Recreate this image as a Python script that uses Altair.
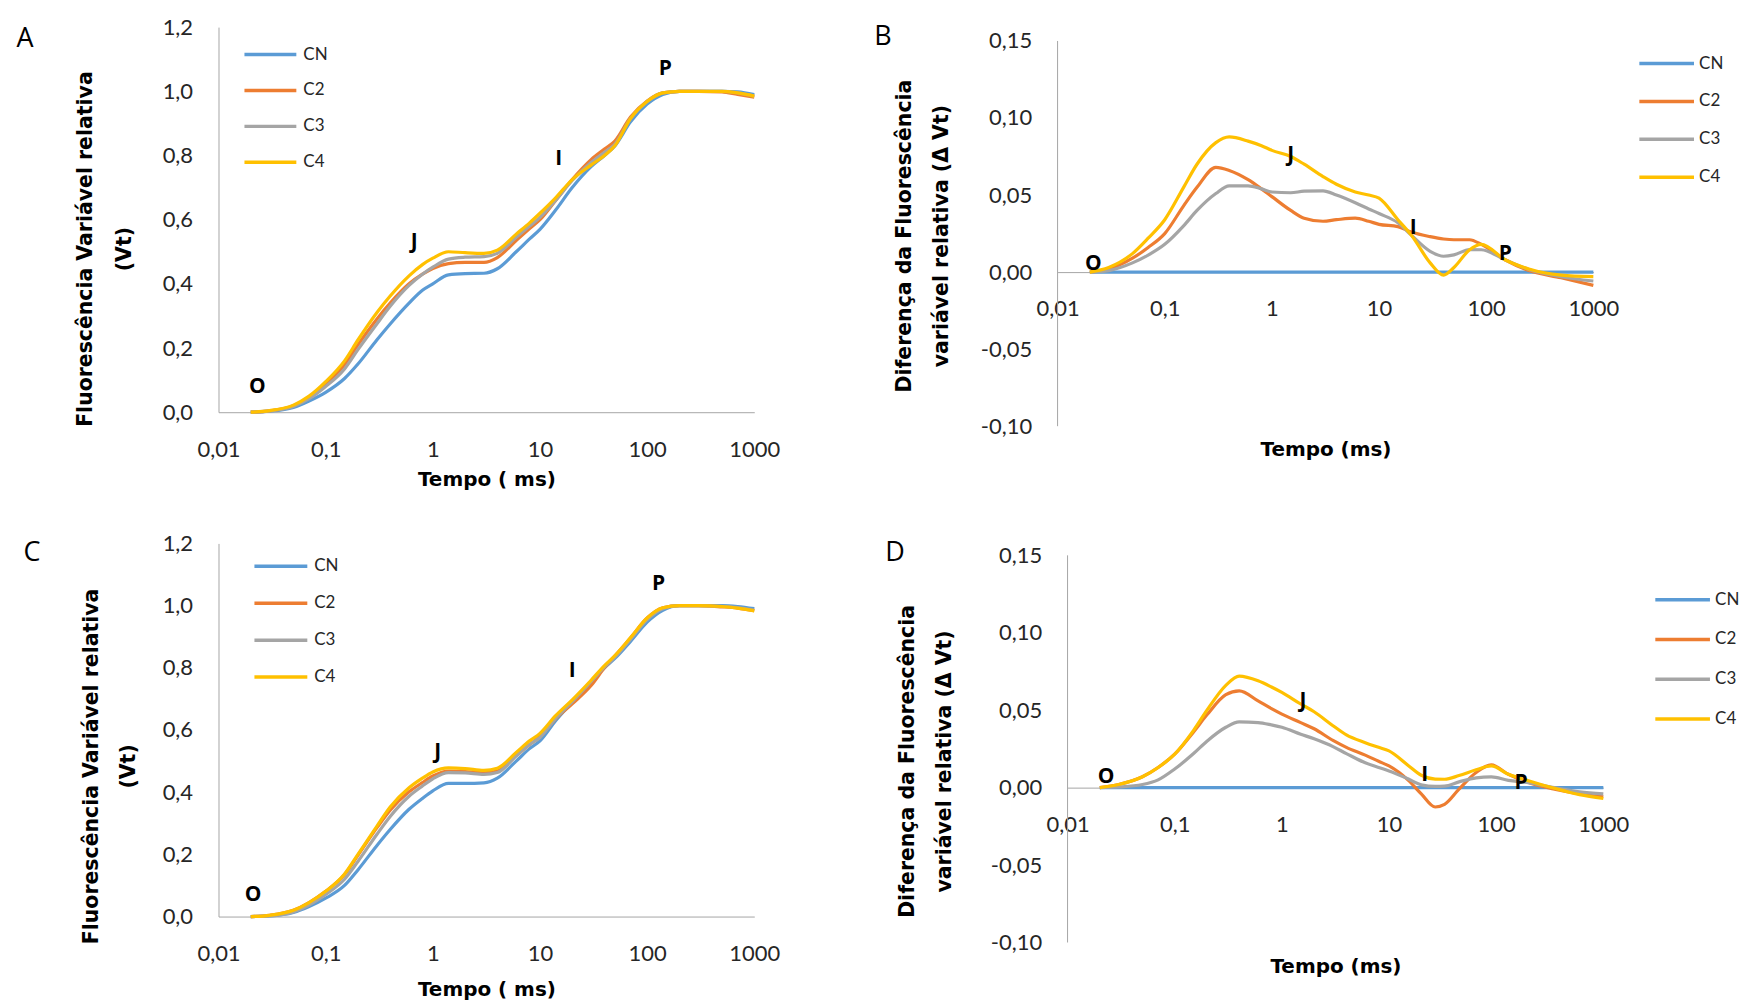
import altair as alt
import pandas as pd

SERIES = ["CN", "C2", "C3", "C4"]
COLORS = ["#5B9BD5", "#ED7D31", "#A5A5A5", "#FFC000"]
ANN = ["O", "J", "I", "P"]
X_TICKS = [0.01, 0.1, 1, 10, 100, 1000]
VT_TICKS = [0, 0.2, 0.4, 0.6, 0.8, 1.0, 1.2]
DV_TICKS = [-0.10, -0.05, 0, 0.05, 0.10, 0.15]

# ---- Panel A (Vt) ----
t_a = [0.02, 0.03, 0.05, 0.07, 0.1, 0.15, 0.2, 0.3, 0.4, 0.6, 0.8, 1, 1.4, 2, 3, 4, 6, 8, 10, 14,
       20, 30, 40, 50, 70, 100, 140, 200, 300, 500, 700, 1000]
a_cn = [0, 0.003, 0.015, 0.035, 0.062, 0.105, 0.15, 0.225, 0.275, 0.34, 0.38, 0.40, 0.428, 0.432, 0.433,
        0.447, 0.50, 0.54, 0.57, 0.63, 0.70, 0.765, 0.80, 0.83, 0.905, 0.96, 0.99, 1.0, 1.0, 1.0, 0.998, 0.99]
a_c2 = [0, 0.004, 0.02, 0.045, 0.087, 0.148, 0.21, 0.29, 0.34, 0.40, 0.43, 0.448, 0.463, 0.467, 0.467,
        0.482, 0.535, 0.572, 0.60, 0.66, 0.725, 0.787, 0.82, 0.845, 0.92, 0.97, 0.995, 1.0, 1.0, 0.998, 0.99, 0.982]
a_c3 = [0, 0.004, 0.018, 0.042, 0.08, 0.135, 0.195, 0.275, 0.33, 0.395, 0.43, 0.452, 0.477, 0.483, 0.485,
        0.495, 0.545, 0.58, 0.607, 0.66, 0.722, 0.778, 0.81, 0.835, 0.915, 0.968, 0.995, 1.0, 1.0, 1.0, 0.995, 0.985]
a_c4 = [0, 0.005, 0.022, 0.05, 0.095, 0.16, 0.225, 0.31, 0.362, 0.425, 0.46, 0.48, 0.50, 0.497, 0.495,
        0.505, 0.555, 0.59, 0.62, 0.668, 0.725, 0.77, 0.80, 0.83, 0.915, 0.968, 0.995, 1.0, 1.0, 1.0, 0.995, 0.985]
ann_a_t = [0.023, 0.67, 15, 148]
ann_a_v = [0.08, 0.53, 0.79, 1.07]

# ---- Panel B (delta Vt) ----
t_b = [0.02, 0.03, 0.05, 0.07, 0.1, 0.15, 0.2, 0.3, 0.4, 0.6, 0.8, 1, 1.5, 2, 3, 4, 6, 8, 10, 15,
       20, 30, 40, 50, 70, 90, 150, 250, 500, 1000]
b_cn = [0, 0, 0, 0, 0, 0, 0, 0, 0, 0, 0, 0, 0, 0, 0, 0, 0, 0, 0, 0, 0, 0, 0, 0, 0, 0, 0, 0, 0, 0]
b_c2 = [0, 0.002, 0.009, 0.016, 0.025, 0.043, 0.055, 0.068, 0.066, 0.06, 0.054, 0.049, 0.04, 0.035, 0.033,
        0.034, 0.035, 0.033, 0.031, 0.0295, 0.026, 0.023, 0.0215, 0.021, 0.021, 0.018, 0.008, 0.001, -0.0037, -0.0086]
b_c3 = [0, 0.001, 0.006, 0.011, 0.018, 0.03, 0.04, 0.051, 0.056, 0.056, 0.054, 0.052, 0.0515, 0.0525, 0.0527,
        0.05, 0.045, 0.041, 0.038, 0.032, 0.024, 0.0135, 0.0103, 0.0112, 0.0146, 0.0145, 0.008, 0.0017, -0.003, -0.0058]
b_c4 = [0, 0.003, 0.012, 0.022, 0.034, 0.055, 0.07, 0.084, 0.0877, 0.085, 0.082, 0.079, 0.075, 0.07, 0.062,
        0.057, 0.052, 0.05, 0.048, 0.034, 0.024, 0.006, -0.002, 0.003, 0.0145, 0.018, 0.008, 0.002, -0.002, -0.003]
ann_b_t = [0.0216, 1.5, 20.8, 151]
ann_b_v = [0.005, 0.076, 0.0286, 0.0117]

# ---- Panel C (Vt) ----
t_c = t_a
c_cn = [0, 0.002, 0.013, 0.032, 0.059, 0.10, 0.15, 0.228, 0.28, 0.345, 0.38, 0.404, 0.428, 0.428, 0.43,
        0.445, 0.50, 0.54, 0.565, 0.63, 0.69, 0.755, 0.80, 0.83, 0.885, 0.947, 0.985, 1.0, 1.0, 1.0, 0.997, 0.99]
c_c2 = [0, 0.004, 0.02, 0.045, 0.081, 0.135, 0.197, 0.285, 0.342, 0.401, 0.431, 0.452, 0.468, 0.466, 0.462,
        0.468, 0.518, 0.553, 0.579, 0.636, 0.684, 0.743, 0.80, 0.838, 0.896, 0.96, 0.993, 1.0, 1.0, 0.996, 0.992, 0.984]
c_c3 = [0, 0.002, 0.015, 0.037, 0.071, 0.12, 0.177, 0.264, 0.322, 0.387, 0.42, 0.443, 0.463, 0.462, 0.457,
        0.463, 0.516, 0.553, 0.576, 0.637, 0.691, 0.756, 0.803, 0.834, 0.892, 0.955, 0.99, 1.0, 1.0, 0.998, 0.994, 0.986]
c_c4 = [0, 0.004, 0.02, 0.045, 0.081, 0.137, 0.20, 0.29, 0.352, 0.414, 0.445, 0.465, 0.478, 0.476, 0.47,
        0.477, 0.528, 0.565, 0.589, 0.646, 0.697, 0.76, 0.807, 0.839, 0.897, 0.96, 0.993, 1.0, 1.0, 0.997, 0.992, 0.983]
ann_c_t = [0.021, 1.11, 20, 128]
ann_c_v = [0.07, 0.53, 0.79, 1.07]

# ---- Panel D (delta Vt) ----
t_d = [0.02, 0.03, 0.05, 0.07, 0.1, 0.15, 0.2, 0.3, 0.4, 0.6, 0.8, 1, 1.5, 2, 3, 4, 6, 8, 10, 15,
       20, 27, 33, 45, 65, 90, 130, 200, 350, 600, 1000]
d_cn = [0, 0, 0, 0, 0, 0, 0, 0, 0, 0, 0, 0, 0, 0, 0, 0, 0, 0, 0, 0, 0, 0, 0, 0, 0, 0, 0, 0, 0, 0, 0]
d_c2 = [0, 0.002, 0.007, 0.013, 0.0216, 0.036, 0.047, 0.06, 0.0625, 0.056, 0.051, 0.0475, 0.042, 0.038, 0.0305,
        0.026, 0.021, 0.017, 0.014, 0.005, -0.004, -0.0125, -0.0108, -0.001, 0.0098, 0.0147, 0.0086, 0.0033, -0.001, -0.004, -0.006]
d_c3 = [0, 0.0004, 0.002, 0.005, 0.012, 0.022, 0.03, 0.039, 0.0425, 0.042, 0.0405, 0.039, 0.0345, 0.0315, 0.0265,
        0.022, 0.016, 0.013, 0.0108, 0.0057, 0.0018, 0.0008, 0.001, 0.0037, 0.0063, 0.0069, 0.0047, 0.0032, 0, -0.0027, -0.004]
d_c4 = [0, 0.002, 0.007, 0.013, 0.0216, 0.037, 0.05, 0.066, 0.072, 0.069, 0.065, 0.0615, 0.054, 0.049, 0.04,
        0.034, 0.029, 0.026, 0.0237, 0.0145, 0.008, 0.0055, 0.0054, 0.0078, 0.0115, 0.014, 0.0086, 0.0045, -0.0004, -0.0045, -0.007]
ann_d_t = [0.0229, 1.57, 21.5, 171]
ann_d_v = [0.007, 0.056, 0.0084, 0.003]

LOG_FMT = "replace(format(datum.value, '~g'), '.', ',')"
VT_FMT = "replace(format(datum.value, '.1f'), '.', ',')"
DV_FMT = "replace(replace(format(datum.value, '.2f'), '.', ','), '\u2212', '-')"

AXIS_GRAY = "#A6A6A6"
LABEL_COLOR = "#262626"
TITLE_FONT = "DejaVu Sans"
LABEL_FONT = "Lato"


def long_df(times, vals):
    rows = []
    for k, (s, v) in enumerate(zip(SERIES, vals)):
        for t, y in zip(times, v):
            rows.append({"t": t, "v": y, "s": s, "k": k})
    return pd.DataFrame(rows)


def panel(times, vals, ann_t, ann_v, letter, letter_pos, height, ydomain, yticks, yfmt,
          ytitle, ytitle_size, ytitle_lh, ytitle_pad, ytitle_y, xtitle, legend_x, legend_y, legend_rowpad,
          symbol_size, zero_axis=False, x_title_y=0, x_title_pad=8, label_offset=3):
    df = long_df(times, vals)
    ann_df = pd.DataFrame({"t": ann_t, "v": ann_v, "lab": ANN})

    xaxis_kw = dict(values=X_TICKS, labelExpr=LOG_FMT, title=xtitle, ticks=False, grid=False,
                    labelPadding=27, labelFlush=False, labelOverlap=False, domainColor=AXIS_GRAY,
                    labelFont=LABEL_FONT, labelFontSize=22, labelColor=LABEL_COLOR,
                    titleFont=TITLE_FONT, titleFontSize=20, titleFontWeight="bold", titleColor="#000")
    if zero_axis:
        zero_from_bottom = height * (0 - ydomain[0]) / (ydomain[1] - ydomain[0])
        xaxis_kw.update(offset=-zero_from_bottom, titleY=x_title_y, titleBaseline="middle")
    else:
        xaxis_kw.update(titlePadding=x_title_pad)
    x = alt.X("t:Q", scale=alt.Scale(type="log", domain=[0.01, 1000]), axis=alt.Axis(**xaxis_kw))
    y = alt.Y("v:Q", scale=alt.Scale(domain=ydomain, nice=False, zero=False),
              axis=alt.Axis(values=yticks, labelExpr=yfmt, title=ytitle, ticks=False, grid=False,
                            domain=not zero_axis, domainColor=AXIS_GRAY,
                            labelPadding=26, labelFont=LABEL_FONT, labelFontSize=22,
                            labelColor=LABEL_COLOR, titleFont=TITLE_FONT, titleFontSize=ytitle_size,
                            titleFontWeight="bold", titleColor="#000", titleLineHeight=ytitle_lh,
                            titlePadding=ytitle_pad, titleY=ytitle_y))
    color = alt.Color("s:N", sort=SERIES, scale=alt.Scale(domain=SERIES, range=COLORS),
                      legend=alt.Legend(orient="none", legendX=legend_x, legendY=legend_y, title=None,
                                        symbolType="stroke", symbolSize=symbol_size, symbolStrokeWidth=3.5,
                                        labelFont=LABEL_FONT, labelFontSize=17, labelColor=LABEL_COLOR,
                                        rowPadding=legend_rowpad, labelOffset=label_offset, padding=0))
    lines = alt.Chart(df).mark_line(strokeWidth=3.2, interpolate="monotone").encode(
        x=x, y=y, color=color, detail="k:O", order="t:Q")
    ann = alt.Chart(ann_df).mark_text(font="Open Sans", fontWeight="bold", fontSize=21,
                                      color="#000").encode(x=x, y=y, text="lab:N")
    let = alt.Chart(pd.DataFrame({"lab": [letter]})).mark_text(
        font="Open Sans", fontSize=27, color="#000", align="center", baseline="middle").encode(
        x=alt.value(letter_pos[0]), y=alt.value(letter_pos[1]), text="lab:N")
    layers = [lines, ann, let]
    if zero_axis:
        rule_df = pd.DataFrame({"t": [0.01], "lo": [DV_TICKS[0]], "hi": [DV_TICKS[-1]]})
        rule = alt.Chart(rule_df).mark_rule(color=AXIS_GRAY, strokeWidth=1).encode(
            x=x, y=alt.Y("lo:Q", scale=alt.Scale(domain=ydomain, nice=False, zero=False)), y2="hi:Q")
        layers = [rule] + layers
    return alt.layer(*layers).properties(width=537, height=height)


pA = panel(t_a, [a_cn, a_c2, a_c3, a_c4], ann_a_t, ann_a_v, "A", (-194, 12), 386, [0, 1.2], VT_TICKS,
           VT_FMT, ["Fluorescência Variável relativa", "(Vt)"], 20.5, 39, 28, 222, "Tempo ( ms)",
           24, -0.5, 0, 2704, x_title_pad=9, label_offset=5)
pB = panel(t_b, [b_cn, b_c2, b_c3, b_c4], ann_b_t, ann_b_v, "B", (-175, 10), 400, [-0.10, 0.159],
           DV_TICKS, DV_FMT, ["Diferença da Fluorescência", "variável  relativa (Δ Vt)"], 20.5, 37, 28.5, 209,
           "Tempo (ms)", 581, 7, 0, 3000, zero_axis=True, x_title_y=178)
pC = panel(t_c, [c_cn, c_c2, c_c3, c_c4], ann_c_t, ann_c_v, "C", (-187, 10), 374, [0, 1.2], VT_TICKS,
           VT_FMT, ["Fluorescência Variável relativa", "(Vt)"], 20.5, 37, 24, 223, "Tempo ( ms)",
           34, -5.5, 0, 2809, x_title_pad=15, label_offset=5)
pD = panel(t_d, [d_cn, d_c2, d_c3, d_c4], ann_d_t, ann_d_v, "D", (-173, 10), 400, [-0.10, 0.1577],
           DV_TICKS, DV_FMT, ["Diferença da Fluorescência", "variável  relativa (Δ Vt)"], 20.5, 37, 36, 218,
           "Tempo (ms)", 587, 27, 1.8, 3000, zero_axis=True, x_title_y=179)

row1 = alt.hconcat(pA, pB, spacing=94).resolve_scale(color="independent").resolve_legend(color="independent")
row2 = alt.hconcat(pC, pD, spacing=105).resolve_scale(color="independent").resolve_legend(color="independent")
chart = alt.vconcat(row1, row2, spacing=43.5).resolve_scale(color="independent").resolve_legend(
    color="independent").properties(padding={"left": 8, "top": 7, "right": 0, "bottom": 0}).configure_view(
    strokeWidth=0)

chart.save("out.html", embed_options={"renderer": "svg", "actions": False})
